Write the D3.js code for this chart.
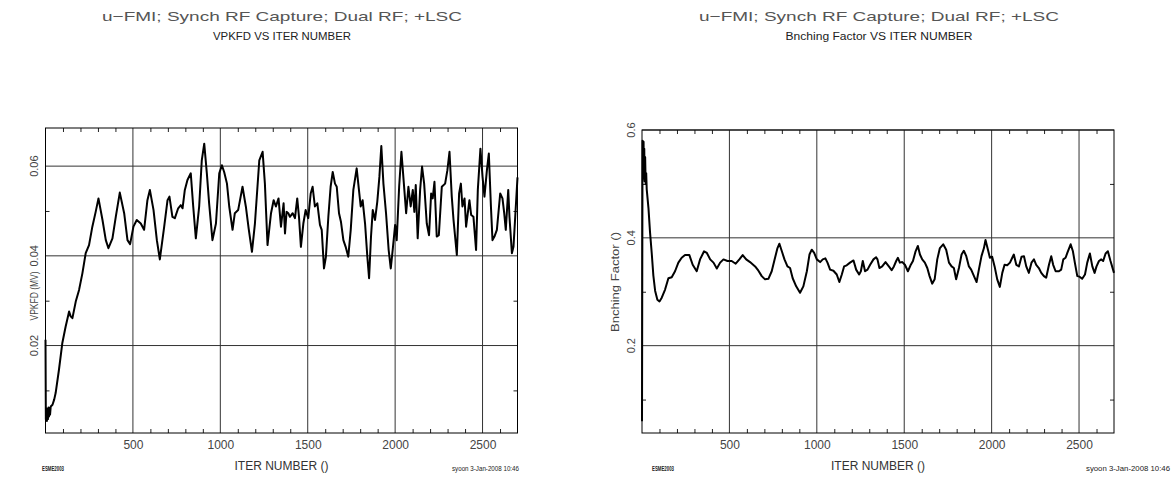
<!DOCTYPE html>
<html>
<head>
<meta charset="utf-8">
<script src="https://cdn.jsdelivr.net/npm/d3@7"></script>
<style>
  body { margin: 0; background: #fff; }
  svg { display: block; }
  text { font-family: "Liberation Sans", Arial, sans-serif; }
</style>
</head>
<body>
<svg id="chart" width="1172" height="480"></svg>
<script>
// ---- data ----
const runTitle = "u\u2212FMI; Synch RF Capture; Dual RF; +LSC";
const xLabel = "ITER NUMBER ()";
const footLeft = "ESME2003";
const footRight = "syoon  3-Jan-2008 10:46";
const xDomain = [0, 2700];
const xTicks = [500, 1000, 1500, 2000, 2500];
const xMinor = [100, 200, 300, 400, 600, 700, 800, 900, 1100, 1200, 1300, 1400, 1600, 1700, 1800, 1900,
                2100, 2200, 2300, 2400, 2600];

// VPKFD (MV) against iteration
const vpkfdIter = [0, 2, 5, 8, 11, 14, 17, 20, 23, 26, 30, 40, 50, 58, 77, 96, 115, 135, 144, 154, 173, 192, 211,
  230, 249, 268, 287, 303, 326, 345, 360, 383, 402, 425, 450, 469, 484, 503, 522, 545, 564, 583, 597, 618, 637,
  654, 679, 698, 709, 726, 740, 759, 774, 784, 797, 812, 831, 845, 860, 879, 894, 908, 923, 936, 955, 975, 994,
  1009, 1022, 1038, 1051, 1070, 1083, 1102, 1127, 1146, 1162, 1181, 1198, 1223, 1242, 1255, 1270, 1290, 1305,
  1318, 1333, 1347, 1362, 1370, 1379, 1389, 1398, 1414, 1427, 1440, 1450, 1461, 1475, 1488, 1503, 1517, 1528,
  1541, 1555, 1570, 1580, 1593, 1604, 1618, 1631, 1643, 1656, 1666, 1679, 1690, 1704, 1717, 1732, 1746, 1761,
  1780, 1793, 1803, 1814, 1828, 1841, 1851, 1862, 1872, 1885, 1898, 1910, 1921, 1933, 1948, 1963, 1975, 1986,
  2000, 2009, 2023, 2036, 2047, 2063, 2076, 2089, 2101, 2110, 2118, 2129, 2143, 2154, 2166, 2181, 2194, 2206,
  2215, 2225, 2238, 2250, 2267, 2286, 2299, 2311, 2324, 2334, 2353, 2366, 2376, 2385, 2397, 2406, 2425, 2435,
  2448, 2463, 2473, 2488, 2500, 2511, 2525, 2536, 2548, 2557, 2568, 2582, 2601, 2614, 2624, 2633, 2647, 2654,
  2668, 2677, 2687, 2700];
const vpkfdValues = [0.0213, 0.0035, 0.0060, 0.0032, 0.0058, 0.0036, 0.0062, 0.0042, 0.0060, 0.0046, 0.0064,
  0.0068, 0.0080, 0.0094, 0.0146, 0.0205, 0.0242, 0.0276, 0.0265, 0.0261, 0.0298, 0.0324, 0.0361, 0.0406,
  0.0424, 0.0465, 0.0498, 0.0528, 0.0480, 0.0435, 0.0417, 0.0439, 0.0487, 0.0541, 0.0495, 0.0435, 0.0426,
  0.0465, 0.0480, 0.0472, 0.0458, 0.0524, 0.0547, 0.0502, 0.0435, 0.0392, 0.0465, 0.0524, 0.0532, 0.0487,
  0.0484, 0.0506, 0.0513, 0.0506, 0.0547, 0.0569, 0.0584, 0.0510, 0.0439, 0.0510, 0.0613, 0.0650, 0.0584,
  0.0517, 0.0435, 0.0472, 0.0584, 0.0602, 0.0587, 0.0561, 0.0510, 0.0458, 0.0495, 0.0502, 0.0554, 0.0510,
  0.0461, 0.0409, 0.0472, 0.0613, 0.0632, 0.0561, 0.0424, 0.0495, 0.0524, 0.0510, 0.0528, 0.0465, 0.0517,
  0.0450, 0.0498, 0.0495, 0.0487, 0.0495, 0.0484, 0.0528, 0.0487, 0.0420, 0.0472, 0.0502, 0.0484, 0.0539,
  0.0554, 0.0510, 0.0517, 0.0469, 0.0458, 0.0372, 0.0398, 0.0487, 0.0554, 0.0587, 0.0561, 0.0554, 0.0495,
  0.0476, 0.0435, 0.0420, 0.0398, 0.0458, 0.0547, 0.0595, 0.0547, 0.0510, 0.0524, 0.0472, 0.0398, 0.0350,
  0.0443, 0.0502, 0.0480, 0.0521, 0.0576, 0.0645, 0.0561, 0.0495, 0.0413, 0.0372, 0.0413, 0.0469, 0.0435,
  0.0554, 0.0632, 0.0576, 0.0495, 0.0554, 0.0510, 0.0547, 0.0498, 0.0558, 0.0439, 0.0547, 0.0599, 0.0561,
  0.0472, 0.0446, 0.0539, 0.0528, 0.0565, 0.0443, 0.0446, 0.0554, 0.0561, 0.0591, 0.0632, 0.0532, 0.0480,
  0.0402, 0.0539, 0.0561, 0.0510, 0.0528, 0.0465, 0.0524, 0.0491, 0.0487, 0.0413, 0.0547, 0.0639, 0.0576,
  0.0532, 0.0591, 0.0628, 0.0510, 0.0435, 0.0443, 0.0458, 0.0539, 0.0528, 0.0495, 0.0458, 0.0547, 0.0487,
  0.0406, 0.0420, 0.0487, 0.0575];
const vpkfdDomain = [0.0005, 0.0685];
const vpkfdTicks = [0.02, 0.04, 0.06];
const vpkfdMinor = [0.01, 0.03, 0.05];

// Branching factor against iteration
const bnchIter = [0, 3, 5, 7, 9, 11, 13, 15, 18, 21, 24, 27, 37, 46, 56, 65, 75, 88, 100, 113, 132, 151, 170,
  189, 208, 227, 246, 271, 290, 313, 332, 355, 371, 390, 409, 428, 447, 466, 489, 513, 536, 557, 576, 596, 618,
  647, 666, 685, 704, 723, 742, 761, 775, 786, 800, 815, 832, 847, 862, 882, 904, 923, 943, 958, 971, 985, 1000,
  1019, 1034, 1049, 1061, 1076, 1095, 1114, 1129, 1143, 1156, 1171, 1190, 1210, 1225, 1242, 1252, 1263, 1276,
  1290, 1305, 1324, 1339, 1347, 1358, 1374, 1393, 1412, 1428, 1441, 1454, 1464, 1475, 1489, 1504, 1521, 1536,
  1550, 1565, 1578, 1590, 1603, 1618, 1632, 1645, 1660, 1674, 1689, 1704, 1723, 1740, 1756, 1771, 1784, 1797,
  1813, 1828, 1841, 1855, 1870, 1883, 1899, 1914, 1927, 1942, 1956, 1965, 1979, 1990, 2003, 2017, 2032, 2047,
  2061, 2074, 2089, 2105, 2118, 2127, 2141, 2156, 2171, 2185, 2198, 2213, 2228, 2242, 2255, 2270, 2284, 2299,
  2312, 2328, 2341, 2352, 2366, 2385, 2398, 2410, 2423, 2433, 2452, 2465, 2476, 2490, 2503, 2518, 2534, 2547,
  2562, 2576, 2589, 2600, 2614, 2627, 2638, 2652, 2665, 2680, 2700];
const bnchValues = [0.060, 0.580, 0.565, 0.520, 0.578, 0.510, 0.565, 0.505, 0.550, 0.500, 0.520, 0.490, 0.455,
  0.410, 0.370, 0.330, 0.302, 0.285, 0.282, 0.289, 0.304, 0.325, 0.327, 0.338, 0.354, 0.363, 0.368, 0.368,
  0.350, 0.338, 0.360, 0.375, 0.372, 0.360, 0.354, 0.343, 0.354, 0.360, 0.357, 0.357, 0.352, 0.360, 0.368,
  0.360, 0.355, 0.347, 0.339, 0.329, 0.323, 0.324, 0.338, 0.363, 0.381, 0.389, 0.375, 0.360, 0.347, 0.344,
  0.325, 0.310, 0.298, 0.310, 0.338, 0.369, 0.378, 0.372, 0.360, 0.355, 0.360, 0.362, 0.354, 0.341, 0.339,
  0.332, 0.318, 0.332, 0.347, 0.349, 0.354, 0.358, 0.341, 0.332, 0.338, 0.357, 0.338, 0.341, 0.350, 0.360,
  0.364, 0.360, 0.344, 0.347, 0.355, 0.347, 0.340, 0.347, 0.357, 0.363, 0.354, 0.355, 0.350, 0.338, 0.349,
  0.357, 0.375, 0.385, 0.369, 0.360, 0.354, 0.344, 0.329, 0.315, 0.323, 0.360, 0.381, 0.388, 0.378, 0.354,
  0.347, 0.344, 0.323, 0.344, 0.369, 0.376, 0.366, 0.347, 0.341, 0.329, 0.318, 0.341, 0.366, 0.381, 0.396,
  0.378, 0.363, 0.365, 0.347, 0.323, 0.309, 0.335, 0.350, 0.349, 0.354, 0.363, 0.369, 0.350, 0.347, 0.365,
  0.366, 0.347, 0.335, 0.354, 0.360, 0.350, 0.344, 0.335, 0.329, 0.326, 0.350, 0.366, 0.350, 0.338, 0.338,
  0.341, 0.360, 0.363, 0.372, 0.388, 0.375, 0.354, 0.329, 0.328, 0.324, 0.332, 0.354, 0.371, 0.347, 0.335,
  0.347, 0.357, 0.360, 0.357, 0.371, 0.375, 0.357, 0.335];
const bnchDomain = [0.038, 0.6];
const bnchTicks = [0.2, 0.4, 0.6];
const bnchMinor = [0.1, 0.3, 0.5];

// ---- drawing ----
const svg = d3.select("#chart");
svg.append("rect").attr("width", 1172).attr("height", 480).attr("fill", "#fff");

const panels = [
  {
    subtitle: "VPKFD VS ITER NUMBER", subLen: 138, yLabel: "VPKFD (MV)", yLabelLen: 49, yLabelY: 296,
    iter: vpkfdIter, values: vpkfdValues, yDomain: vpkfdDomain, yTicks: vpkfdTicks, yMinor: vpkfdMinor,
    fmt: d3.format(".2f"),
    box: { left: 45.5, right: 517.5, top: 128, bottom: 433 },
    titleX: 282, tickLabelX: 34, yLabelX: 34,
    footL: { x: 42, len: 22 }, footR: { x: 519, len: 67 }
  },
  {
    subtitle: "Bnching Factor VS ITER NUMBER", subLen: 187, yLabel: "Bnching Factor ()", yLabelLen: 100, yLabelY: 282,
    iter: bnchIter, values: bnchValues, yDomain: bnchDomain, yTicks: bnchTicks, yMinor: bnchMinor,
    fmt: d3.format(".1f"),
    box: { left: 642, right: 1114, top: 130, bottom: 433 },
    titleX: 879, tickLabelX: 631, yLabelX: 615,
    footL: { x: 652, len: 22 }, footR: { x: 1170, len: 84 }
  }
];

panels.forEach(p => {
  const b = p.box;
  const x = d3.scaleLinear().domain(xDomain).range([b.left, b.right]);
  const y = d3.scaleLinear().domain(p.yDomain).range([b.bottom, b.top]);
  const g = svg.append("g");

  // titles
  g.append("text").attr("x", p.titleX).attr("y", 21).attr("text-anchor", "middle")
    .attr("font-size", 13).attr("fill", "#555")
    .attr("textLength", 360).attr("lengthAdjust", "spacingAndGlyphs").text(runTitle);
  g.append("text").attr("x", p.titleX).attr("y", 39.5).attr("text-anchor", "middle")
    .attr("font-size", 10).attr("fill", "#222")
    .attr("textLength", p.subLen).attr("lengthAdjust", "spacingAndGlyphs").text(p.subtitle);

  // grid lines at the major ticks
  g.append("g").selectAll("line").data(xTicks).join("line")
    .attr("x1", d => x(d)).attr("x2", d => x(d)).attr("y1", b.top).attr("y2", b.bottom)
    .attr("stroke", "#333").attr("stroke-width", 1);
  g.append("g").selectAll("line").data(p.yTicks).join("line")
    .attr("x1", b.left).attr("x2", b.right).attr("y1", d => y(d)).attr("y2", d => y(d))
    .attr("stroke", "#333").attr("stroke-width", 1);

  // minor ticks, pointing inward on all four sides
  const minorBottom = d3.axisBottom(x).tickValues(xMinor).tickSizeInner(-4).tickSizeOuter(0).tickFormat("");
  const minorTop = d3.axisTop(x).tickValues(xMinor).tickSizeInner(-4).tickSizeOuter(0).tickFormat("");
  const minorLeft = d3.axisLeft(y).tickValues(p.yMinor).tickSizeInner(-4).tickSizeOuter(0).tickFormat("");
  const minorRight = d3.axisRight(y).tickValues(p.yMinor).tickSizeInner(-4).tickSizeOuter(0).tickFormat("");
  [[minorBottom, `translate(0,${b.bottom})`], [minorTop, `translate(0,${b.top})`],
   [minorLeft, `translate(${b.left},0)`], [minorRight, `translate(${b.right},0)`]].forEach(([ax, tr]) => {
    const a = g.append("g").attr("transform", tr).call(ax);
    a.select(".domain").remove();
    a.selectAll("line").attr("stroke", "#222");
  });

  // tick labels along x
  const xAxis = d3.axisBottom(x).tickValues(xTicks).tickSize(0).tickPadding(0).tickFormat(d3.format("d"));
  const xa = g.append("g").attr("transform", `translate(0,${b.bottom})`).call(xAxis);
  xa.select(".domain").remove();
  xa.selectAll("text").attr("y", 16).attr("dy", null).attr("font-size", 12)
    .attr("font-family", "'Liberation Sans', Arial, sans-serif").attr("fill", "#444");

  // rotated tick labels along y
  g.append("g").selectAll("text").data(p.yTicks).join("text")
    .attr("transform", d => `translate(${p.tickLabelX},${y(d)}) rotate(-90)`)
    .attr("text-anchor", "middle").attr("dy", "0.35em")
    .attr("font-size", 11).attr("fill", "#444").text(p.fmt);

  // axis titles
  g.append("text").attr("x", (b.left + b.right) / 2).attr("y", 470).attr("text-anchor", "middle")
    .attr("font-size", 12).attr("fill", "#333").text(xLabel);
  g.append("text").attr("transform", `translate(${p.yLabelX},${p.yLabelY}) rotate(-90)`)
    .attr("text-anchor", "middle").attr("dy", "0.35em")
    .attr("font-size", 11).attr("fill", "#444")
    .attr("textLength", p.yLabelLen).attr("lengthAdjust", "spacingAndGlyphs").text(p.yLabel);

  // data curve
  const pts = p.iter.map((it, i) => [it, p.values[i]]);
  g.append("path").datum(pts)
    .attr("d", d3.line().x(d => x(d[0])).y(d => y(d[1])))
    .attr("fill", "none").attr("stroke", "#000").attr("stroke-width", 2)
    .attr("stroke-linejoin", "round");

  // frame
  g.append("rect").attr("x", b.left).attr("y", b.top)
    .attr("width", b.right - b.left).attr("height", b.bottom - b.top)
    .attr("fill", "none").attr("stroke", "#000").attr("stroke-width", 1);

  // footer stamps
  g.append("text").attr("x", p.footL.x).attr("y", 471).attr("font-size", 6.5).attr("font-weight", "bold")
    .attr("fill", "#222").attr("textLength", p.footL.len).attr("lengthAdjust", "spacingAndGlyphs").text(footLeft);
  g.append("text").attr("x", p.footR.x).attr("y", 471).attr("text-anchor", "end").attr("font-size", 7)
    .attr("fill", "#222").attr("textLength", p.footR.len).attr("lengthAdjust", "spacingAndGlyphs").text(footRight);
});
</script>
</body>
</html>
